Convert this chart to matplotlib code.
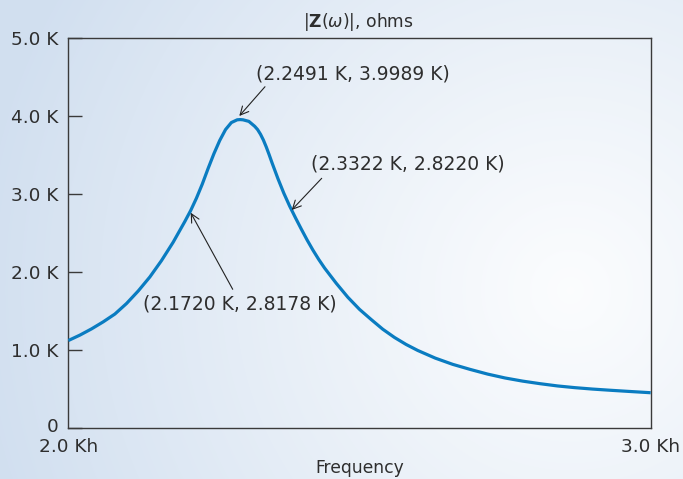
import numpy as np
import matplotlib
matplotlib.use("Agg")
import matplotlib.pyplot as plt
from matplotlib.transforms import ScaledTranslation

# ---- data ----
freq_khz = [2.000, 2.020, 2.040, 2.060, 2.080, 2.100, 2.120, 2.140, 2.160, 2.180,
            2.200, 2.210, 2.220, 2.230, 2.240, 2.250, 2.260, 2.270, 2.280, 2.290,
            2.295, 2.300, 2.310, 2.320, 2.325, 2.330, 2.335, 2.340, 2.345, 2.350,
            2.360, 2.370, 2.380, 2.390, 2.400, 2.410, 2.420, 2.430, 2.440, 2.460,
            2.480, 2.500, 2.520, 2.540, 2.560, 2.580, 2.600, 2.630, 2.660, 2.690,
            2.720, 2.750, 2.780, 2.810, 2.840, 2.870, 2.900, 2.930, 2.960, 3.000]
z_kohm = [1.125, 1.195, 1.275, 1.365, 1.465, 1.600, 1.760, 1.940, 2.150, 2.385,
          2.650, 2.790, 2.950, 3.130, 3.330, 3.520, 3.690, 3.830, 3.920, 3.955,
          3.958, 3.955, 3.935, 3.872, 3.830, 3.770, 3.695, 3.605, 3.505, 3.400,
          3.200, 3.015, 2.850, 2.700, 2.555, 2.415, 2.285, 2.165, 2.055, 1.860,
          1.680, 1.525, 1.395, 1.270, 1.165, 1.075, 0.998, 0.900, 0.820, 0.755,
          0.695, 0.645, 0.605, 0.572, 0.543, 0.521, 0.503, 0.488, 0.474, 0.456]

y_ticks = [0, 1, 2, 3, 4, 5]
y_tick_labels = ["0", "1.0 K", "2.0 K", "3.0 K", "4.0 K", "5.0 K"]
x_ticks = [2.0, 3.0]
x_tick_labels = ["2.0 Kh", "3.0 Kh"]
annot_labels = ["(2.2491 K, 3.9989 K)", "(2.3322 K, 2.8220 K)", "(2.1720 K, 2.8178 K)"]

W, H = 683, 479
fig = plt.figure(figsize=(W / 100, H / 100), dpi=100)

# background gradient
bg = fig.add_axes([0, 0, 1, 1], zorder=-10)
yy, xx = np.mgrid[0:H, 0:W]
d = np.sqrt((xx - 570.0) ** 2 + (yy - 290.0) ** 2)
t = np.clip(d / 600.0, 0, 1) ** 1.1
blue = np.array([0.82, 0.875, 0.94])
white = np.array([0.985, 0.99, 0.995])
img = white[None, None, :] * (1 - t[..., None]) + blue[None, None, :] * t[..., None]
bg.imshow(img, aspect="auto", extent=[0, 1, 0, 1], origin="upper")
bg.axis("off")

ax = fig.add_axes([68.3 / W, 1 - 428.3 / H, (650.7 - 68.3) / W, (428.3 - 38.3) / H])
ax.patch.set_alpha(0)
dark = "#3a3a3a"
txt = "#2e2e2e"

ax.plot(freq_khz, z_kohm, color="#0a7cc1", lw=2.3, solid_capstyle="butt",
        solid_joinstyle="round", zorder=3)

ax.set_xlim(2.0, 3.0)
ax.set_ylim(0, 5)
ax.set_yticks(y_ticks)
ax.set_yticklabels(y_tick_labels)
ax.set_xticks(x_ticks)
ax.set_xticklabels(x_tick_labels)
ax.tick_params(axis="y", direction="in", length=10, width=1.0, color=dark,
               pad=7, labelsize=13.3, labelcolor=txt)
ax.tick_params(axis="x", length=0, pad=7, labelsize=13.3, labelcolor=txt)
for s in ax.spines.values():
    s.set_color(dark)
    s.set_linewidth(1.0)

# lift the "0" label slightly so it does not collide with "2.0 Kh"
zero_lbl = ax.yaxis.get_major_ticks()[0].label1
zero_lbl.set_transform(zero_lbl.get_transform() + ScaledTranslation(0, 3 / 100, fig.dpi_scale_trans))

fig.text(359.5 / W, 1 - 468 / H, "Frequency", ha="center", va="center",
         fontsize=12.3, color=txt)
fig.text(358 / W, 1 - 22 / H, r"$|\mathbf{Z}(\omega)|$, ohms", ha="center",
         va="center", fontsize=12.3, color=txt)

aprops = dict(arrowstyle="->", lw=0.8, color="#222222", shrinkA=0, shrinkB=0,
              mutation_scale=15)
# peak
ax.annotate("", xy=(2.2936, 4.004), xytext=(2.3377, 4.379), arrowprops=aprops)
ax.text(2.4888, 4.542, annot_labels[0], ha="center", va="center", fontsize=13.5, color=txt)
# right half-power
ax.annotate("", xy=(2.3836, 2.799), xytext=(2.4351, 3.205), arrowprops=aprops)
ax.text(2.5833, 3.385, annot_labels[1], ha="center", va="center", fontsize=13.5, color=txt)
# left half-power
ax.annotate("", xy=(2.2102, 2.764), xytext=(2.2823, 1.782), arrowprops=aprops)
ax.text(2.2948, 1.594, annot_labels[2], ha="center", va="center", fontsize=13.5, color=txt)

fig.savefig("out.png", dpi=100)
